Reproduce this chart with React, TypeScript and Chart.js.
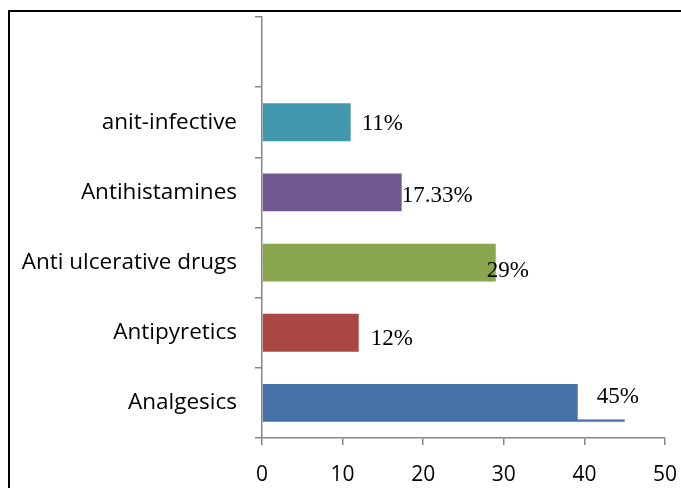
import React, { useEffect, useRef } from "react";
import { Chart, registerables } from "chart.js";

Chart.register(...registerables);

const categories = ["", "anit-infective", "Antihistamines", "Anti ulcerative drugs", "Antipyretics", "Analgesics"];
const values: (number | null)[] = [null, 11, 17.33, 29, 12, 45];
const valueLabels = ["", "11%", "17.33%", "29%", "12%", "45%"];
const barColors = ["#4198AF", "#4198AF", "#71588F", "#89A54E", "#AA4643", "#4572A7"];
const xTicks = [0, 10, 20, 30, 40, 50];

// label placement offsets (px) relative to bar end / bar centre
const labelDx = [0, 11, 0, -9, 12, -28];
const labelDy = [0, 1.5, 3.5, 8.5, 6, -5.5];
const labelBoxed = [false, false, false, false, false, true];

const labelPlugin = {
  id: "valueLabels",
  afterDatasetsDraw(chart: any) {
    const ctx = chart.ctx;
    const meta = chart.getDatasetMeta(0);
    ctx.save();
    ctx.font = "23px 'Liberation Serif', 'Times New Roman', serif";
    ctx.textBaseline = "middle";
    ctx.textAlign = "left";
    meta.data.forEach((el: any, i: number) => {
      const txt = valueLabels[i];
      if (!txt || values[i] == null) return;
      const x = el.x + labelDx[i];
      const y = el.y + labelDy[i];
      const w = ctx.measureText(txt).width;
      if (labelBoxed[i]) {
        ctx.fillStyle = "#ffffff";
        ctx.fillRect(x - 19, y - 30, w + 38, 52);
      }
      ctx.fillStyle = "#000000";
      ctx.fillText(txt, x, y);
    });
    ctx.restore();
  },
};

export default function App() {
  const ref = useRef<HTMLCanvasElement | null>(null);
  useEffect(() => {
    if (!ref.current) return;
    const axisColor = "#868686";
    const chart = new Chart(ref.current, {
      type: "bar",
      data: {
        labels: categories,
        datasets: [
          {
            data: values,
            backgroundColor: barColors,
            barPercentage: 0.54,
            categoryPercentage: 1,
          },
        ],
      },
      plugins: [labelPlugin],
      options: {
        indexAxis: "y",
        responsive: false,
        animation: false,
        layout: { padding: { left: 0, right: 16, top: 17, bottom: 0 } },
        plugins: { legend: { display: false }, tooltip: { enabled: false } },
        scales: {
          x: {
            min: 0,
            max: 50,
            afterFit: (s: any) => {
              s.height = 50;
              s.paddingLeft = 0;
              s.paddingRight = 0;
            },
            afterBuildTicks: (s: any) => {
              s.ticks = xTicks.map((v) => ({ value: v }));
            },
            border: { color: axisColor, width: 1.5 },
            grid: { drawOnChartArea: false, drawTicks: true, tickLength: 7, color: axisColor, lineWidth: 1.5 },
            ticks: {
              padding: 17,
              color: "#000",
              font: { family: "'Open Sans', 'Noto Sans', sans-serif", size: 21 },
              maxRotation: 0,
            },
          },
          y: {
            afterFit: (s: any) => {
              s.width = 262;
              s.paddingTop = 0;
              s.paddingBottom = 0;
            },
            border: { color: axisColor, width: 1.5 },
            grid: { drawOnChartArea: false, drawTicks: true, tickLength: 7, color: axisColor, lineWidth: 1.5, offset: true },
            ticks: {
              padding: 18,
              color: "#000",
              font: { family: "'Open Sans', 'Noto Sans', sans-serif", size: 22.5 },
              autoSkip: false,
            },
          },
        },
      },
    });
    return () => chart.destroy();
  }, []);
  return (
    <div style={{ position: "fixed", left: 0, top: 0, width: 681, height: 488, overflow: "hidden", background: "#fff" }}>
      <div
        style={{
          position: "absolute",
          left: 8,
          top: 10,
          width: 700,
          height: 500,
          borderTop: "2px solid #000",
          borderLeft: "2px solid #000",
        }}
      />
      <canvas ref={ref} width={681} height={488} style={{ position: "absolute", left: 0, top: 0 }} />
    </div>
  );
}
